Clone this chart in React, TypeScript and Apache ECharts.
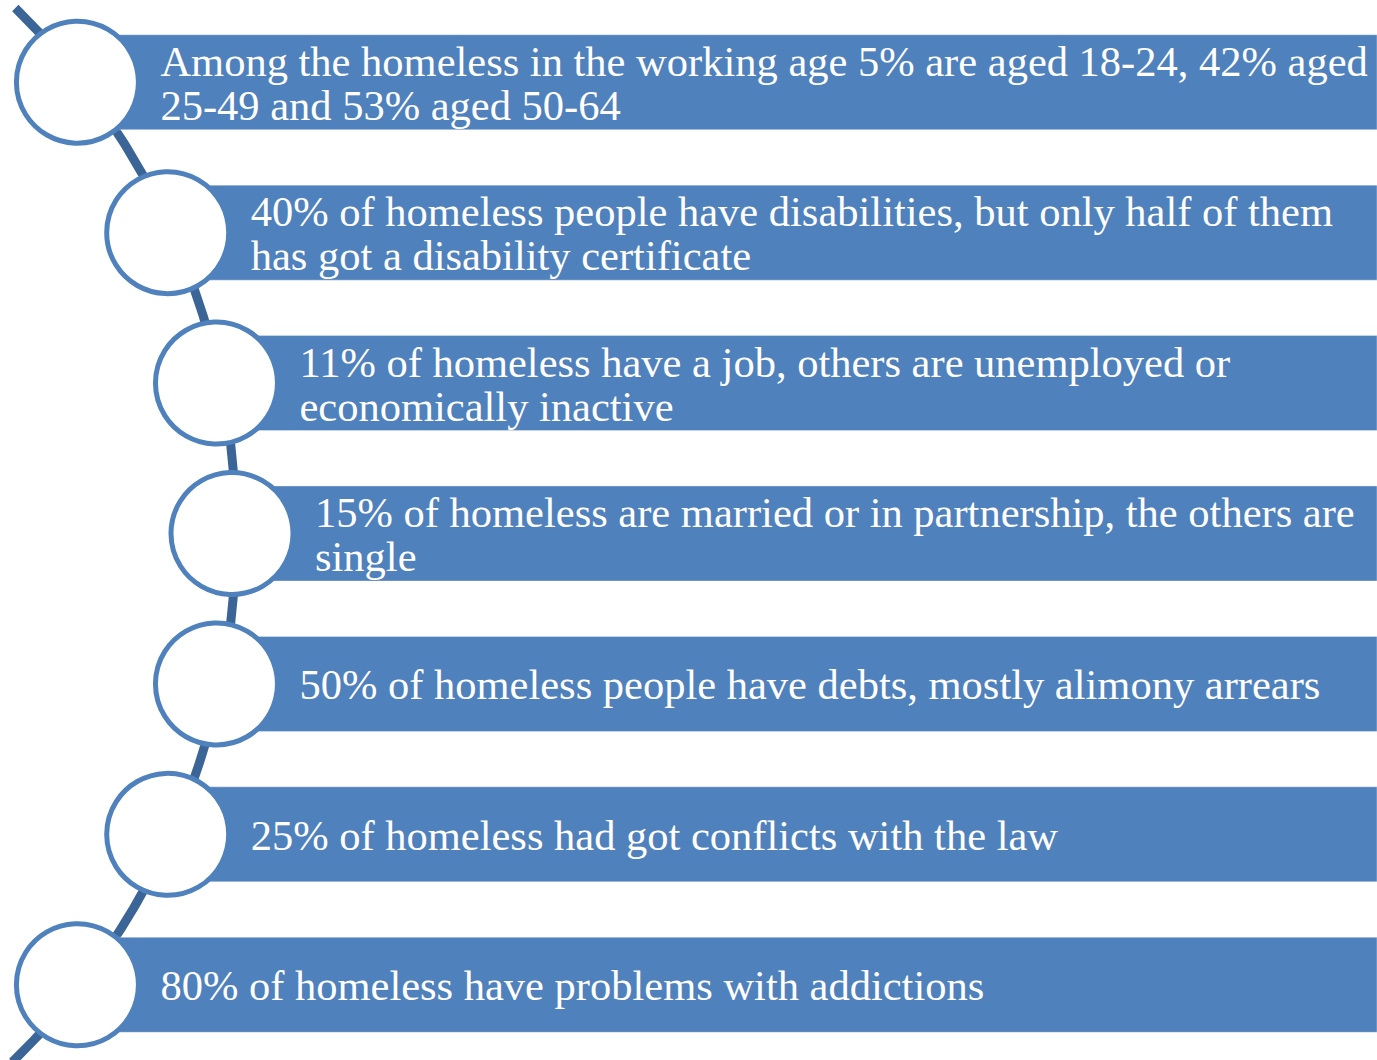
import React, { useEffect, useRef } from "react";
import * as echarts from "echarts";

// Statements (each entry = the wrapped lines of one list item)
const statements: string[][] = [
  ["Among the homeless in the working age 5% are aged 18-24, 42% aged", "25-49 and 53% aged 50-64"],
  ["40% of homeless people have disabilities, but only half of them", "has got a disability certificate"],
  ["11% of homeless have a job, others are unemployed or", "economically inactive"],
  ["15% of homeless are married or in partnership, the others are", "single"],
  ["50% of homeless people have debts, mostly alimony arrears"],
  ["25% of homeless had got conflicts with the law"],
  ["80% of homeless have problems with addictions"],
];
const rowIndex = statements.map((_, i) => i);
const barEnd = 1377;

const W = 1377;
const H = 1060;

export default function App() {
  const ref = useRef<HTMLDivElement>(null);
  useEffect(() => {
    const chart = echarts.init(ref.current!, null, { renderer: "svg" });
    const n = statements.length;
    const RECT_H = 95;
    const CIRCLE_R = 61;
    const ARC_R = 736;
    const MID_X = 232;
    const LINE_SHIFT = 4;
    const LINE_TOP = 8;
    const LINE_BOTTOM = 1062;
    const TEXT_OFF = 83;
    const BLUE = "#4f81bd";
    const DARK = "#3c6597";

    chart.setOption({
      animation: false,
      grid: { left: 0, right: 0, top: 7, height: 1057 },
      xAxis: { type: "value", min: 0, max: W, show: false },
      yAxis: { type: "category", data: rowIndex, inverse: true, show: false },
      series: [
        {
          type: "custom",
          silent: true,
          clip: false,
          data: rowIndex.map((i) => [barEnd, i]),
          renderItem: (params: any, api: any) => {
            const i = api.value(1) as number;
            const yc = api.coord([0, i])[1];
            const xEnd = api.coord([api.value(0), i])[0];
            const midY = api.coord([0, (n - 1) / 2])[1];
            const arcCx = MID_X - ARC_R;
            const cx = arcCx + Math.sqrt(ARC_R * ARC_R - (yc - midY) * (yc - midY));
            const children: any[] = [];
            if (i === 0) {
              children.push({
                type: "arc",
                shape: {
                  cx: arcCx + LINE_SHIFT,
                  cy: midY,
                  r: ARC_R,
                  startAngle: Math.asin((LINE_TOP - midY) / ARC_R),
                  endAngle: Math.asin((LINE_BOTTOM - midY) / ARC_R),
                  clockwise: true,
                },
                style: { stroke: DARK, lineWidth: 9, fill: null },
              });
            }
            children.push({
              type: "rect",
              shape: { x: cx, y: yc - RECT_H / 2, width: xEnd - cx, height: RECT_H },
              style: { fill: BLUE, stroke: "rgba(255,255,255,0.35)", lineWidth: 1 },
            });
            children.push({
              type: "circle",
              shape: { cx: cx, cy: yc, r: CIRCLE_R },
              style: { fill: "#ffffff", stroke: BLUE, lineWidth: 5 },
            });
            children.push({
              type: "text",
              style: {
                text: statements[i].join("\n"),
                x: cx + TEXT_OFF,
                y: yc + 1,
                fill: "#ffffff",
                fontSize: 42.5,
                fontFamily: '"Liberation Serif", "Times New Roman", serif',
                lineHeight: 44,
                align: "left",
                verticalAlign: "middle",
              },
            });
            return { type: "group", children };
          },
        },
      ],
    });
    return () => chart.dispose();
  }, []);
  return (
    <div
      ref={ref}
      style={{ position: "absolute", left: 0, top: 0, width: W, height: H, background: "#ffffff" }}
    />
  );
}
